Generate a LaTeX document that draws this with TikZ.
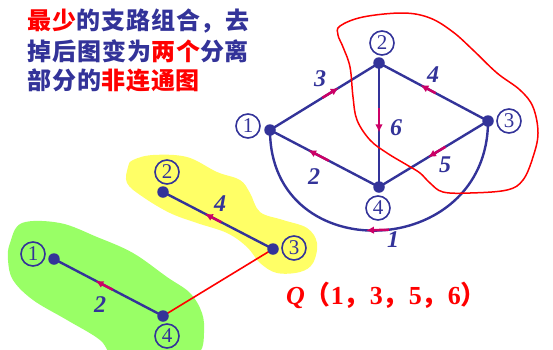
\documentclass[tikz,border=0pt]{standalone}
\usepackage{fontspec}
\setmainfont{Liberation Serif}
\newfontfamily\cjk{Noto Sans CJK SC}[LetterSpace=4]
\newfontfamily\cjkq{Noto Sans CJK SC}
\usetikzlibrary{arrows.meta,calc}
\definecolor{gblue}{HTML}{333399}
\definecolor{amag}{HTML}{CC0066}
\definecolor{rred}{HTML}{FF0000}
\definecolor{yfill}{HTML}{FFFF66}
\definecolor{gfill}{HTML}{99FF66}
\tikzset{
  edge/.style={draw=gblue,line width=2.4pt},
  arr/.style={draw=amag,line width=2.5pt,-{Latex[length=8pt,width=7.5pt]}},
  dot/.style={circle,fill=gblue,minimum size=11.5pt,inner sep=0pt},
  clabel/.style={circle,draw=gblue,line width=1.6pt,minimum size=24pt,inner sep=0pt,text=gblue,font=\fontsize{21}{21}\selectfont},
  elabel/.style={text=gblue,inner sep=0pt,font=\fontsize{24}{24}\selectfont\bfseries\itshape},
  ttl/.style={anchor=west,inner sep=0pt,text=gblue,font=\fontsize{24}{24}\selectfont\cjk\bfseries},
  redcurve/.style={draw=rred,line width=1.5pt},
}
\newcommand{\rt}[1]{\textcolor{rred}{#1}}
\begin{document}
\begin{tikzpicture}[x=1pt,y=-1pt]
\useasboundingbox (0,0) rectangle (553,349);
\clip (0,0) rectangle (553,349);
% blobs
\fill[yfill] plot[smooth cycle,tension=0.6] coordinates {(133,160) (153,155) (187,157) (217,172) (240,180) (250,193) (260,212) (283,220) (307,228) (317,243) (313,263) (300,272) (277,273) (260,263) (247,247) (227,233) (197,223) (170,213) (143,197) (127,183) (128,167)};
\fill[gfill] plot[smooth cycle,tension=0.6] coordinates {(22,223) (60,223) (97,237) (133,253) (167,277) (190,293) (202,313) (204,333) (200,352) (180,365) (120,362) (100,340) (67,320) (33,300) (13,280) (8,260) (10,243)};
% title
\node[ttl] (t1) at (27,21) {\rt{最少}的支路组合，去};
\node[ttl] (t2) at (27,51) {掉后图变为\rt{两个}分离};
\node[ttl] (t3) at (27,80) {部分的\rt{非连通图}};
% main graph vertices
\coordinate (v1) at (270,130);
\coordinate (v2) at (379,63);
\coordinate (v3) at (488,121);
\coordinate (v4) at (379,187);
\draw[edge] (v1) -- (v2);
\draw[edge] (v3) -- (v2);
\draw[edge] (v2) -- (v4);
\draw[edge] (v4) -- (v1);
\draw[edge] (v3) -- (v4);
\draw[edge] (v1) .. controls (270,270) and (488,261) .. (v3);
\path (v1) .. controls (270,270) and (488,261) .. (v3) coordinate[pos=0.53] (a1s) coordinate[pos=0.46] (a1e);
\draw[arr] ($(v1)!0.48!(v2)$) -- ($(v1)!0.63!(v2)$);
\draw[arr] ($(v3)!0.48!(v2)$) -- ($(v3)!0.62!(v2)$);
\draw[arr] ($(v2)!0.36!(v4)$) -- ($(v2)!0.56!(v4)$);
\draw[arr] ($(v4)!0.46!(v1)$) -- ($(v4)!0.65!(v1)$);
\draw[arr] ($(v3)!0.39!(v4)$) -- ($(v3)!0.55!(v4)$);
\draw[arr] (a1s) -- (a1e);
% red cut curve
\draw[redcurve] plot[smooth cycle,tension=0.6] coordinates {(340,26) (363,17) (403,13) (430,18) (453,32) (473,50) (497,73) (520,90) (533,107) (538,133) (533,157) (523,180) (507,190) (470,193) (443,192) (430,183) (420,173) (407,165) (387,153) (370,140) (357,120) (353,97) (350,67) (343,47) (338,35)};
\node[dot] (d1) at (v1) {};
\node[dot] (d2) at (v2) {};
\node[dot] (d3) at (v3) {};
\node[dot] (d4) at (v4) {};
\node[clabel] (l1) at (248,126) {1};
\node[clabel] (l2) at (382,43) {2};
\node[clabel] (l3) at (509,121) {3};
\node[clabel] (l4) at (378,208) {4};
\node[elabel] (e3) at (320,79) {3};
\node[elabel] (e4) at (433,75) {4};
\node[elabel] (e6) at (396,128) {6};
\node[elabel] (e2) at (314,177) {2};
\node[elabel] (e5) at (445,165) {5};
\node[elabel] (e1) at (393,240) {1};
% bottom components
\coordinate (y2) at (163,192);
\coordinate (y3) at (273,249);
\coordinate (g1) at (54,259);
\coordinate (g4) at (163,316);
\draw[edge] (y3) -- (y2);
\draw[edge] (g4) -- (g1);
\draw[arr] ($(y3)!0.47!(y2)$) -- ($(y3)!0.62!(y2)$);
\draw[arr] ($(g4)!0.46!(g1)$) -- ($(g4)!0.62!(g1)$);
\draw[draw=rred,line width=1.6pt] (g4) -- (y3);
\node[dot] (dy2) at (y2) {};
\node[dot] (dy3) at (y3) {};
\node[dot] (dg1) at (g1) {};
\node[dot] (dg4) at (g4) {};
\node[clabel] (ly2) at (167,172) {2};
\node[clabel] (ly3) at (294,248) {3};
\node[clabel] (lg1) at (33,254) {1};
\node[clabel] (lg4) at (167,336) {4};
\node[elabel] (ey4) at (220,204) {4};
\node[elabel] (eg2) at (100,305) {2};
% Q set
\node[anchor=west,inner sep=0pt,text=rred,font=\fontsize{26}{26}\selectfont\bfseries] (q) at (286,295) {\textit{Q}{\cjkq （}1{\cjkq ，}3{\cjkq ，}5{\cjkq ，}6{\cjkq ）}};
\end{tikzpicture}
\end{document}
